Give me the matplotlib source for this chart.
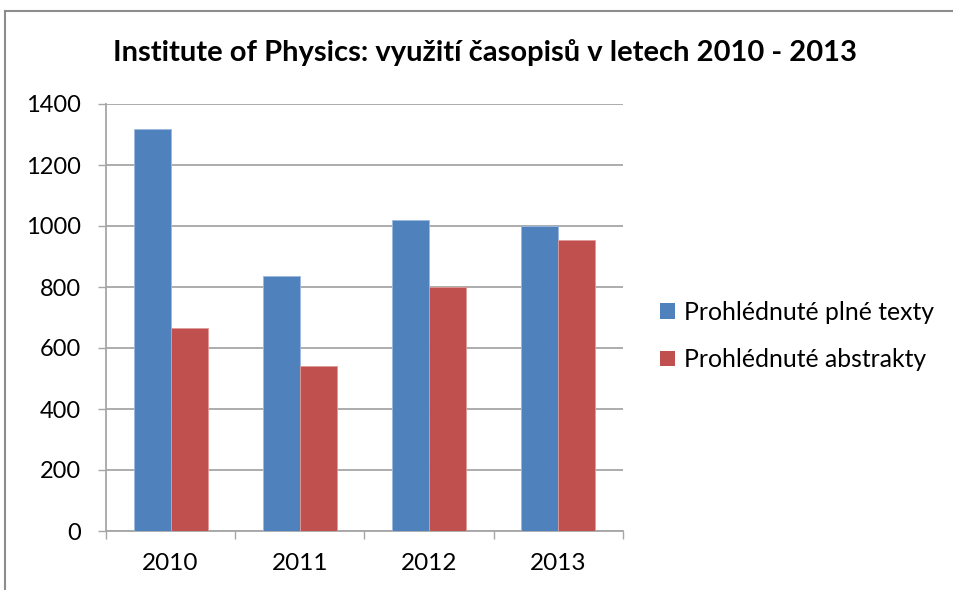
import matplotlib.pyplot as plt
import numpy as np
from matplotlib.patches import Patch
from matplotlib.lines import Line2D

plt.rcParams['font.family'] = ['Lato', 'DejaVu Sans']

# data
years = ['2010', '2011', '2012', '2013']
plne_texty = [1317, 835, 1020, 1000]
abstrakty = [665, 541, 800, 953]
labels = ['Prohlédnuté plné texty', 'Prohlédnuté abstrakty']

blue = '#4F81BD'
red = '#C0504D'
grid_c = '#A6A6A6'

W, H = 954, 590
fig = plt.figure(figsize=(W/100, H/100), dpi=100)
ax = fig.add_axes([106/W, 1-531/H, (623-106)/W, (531-104)/H])

x = np.arange(len(years))
w = 1/3.5
ax.bar(x - w/2, plne_texty, w, color=blue, edgecolor='#9DB9E0', linewidth=0.6, zorder=3)
ax.bar(x + w/2, abstrakty, w, color=red, edgecolor='#E09A98', linewidth=0.6, zorder=3)

ax.set_xlim(-0.5, 3.5)
ax.set_ylim(0, 1400)
ax.set_yticks(np.arange(0, 1401, 200))
ax.yaxis.grid(True, color=grid_c, linewidth=1.3, zorder=0)

ax.set_xticks(np.arange(-0.5, 4, 1))
ax.set_xticklabels([])
ax.set_xticks(x, minor=True)
ax.set_xticklabels(years, minor=True)
ax.tick_params(axis='x', which='minor', length=0, pad=16, labelsize=17.5)
ax.tick_params(axis='x', which='major', direction='out', length=6, width=1, color=grid_c)
ax.tick_params(axis='y', direction='out', length=6, width=1, color=grid_c, pad=12, labelsize=17)

for s in ['top', 'right']:
    ax.spines[s].set_visible(False)
for s in ['left', 'bottom']:
    ax.spines[s].set_color(grid_c)
    ax.spines[s].set_linewidth(1.3)

fig.text(485/W, 1-52/H, 'Institute of Physics: využití časopisů v letech 2010 - 2013',
         ha='center', va='center', fontsize=21, fontweight='bold')

handles = [Patch(facecolor=blue), Patch(facecolor=red)]
fig.legend(handles, labels, loc='center left', bbox_to_anchor=(638/W, 1-336/H),
           frameon=False, fontsize=17.8, handlelength=0.6, handleheight=0.6,
           handletextpad=0.35, labelspacing=1.0)

# outer chart frame
fig.add_artist(Line2D([5/W, 5/W], [0, 1-11/H], color='#8C8C8C', linewidth=1.5))
fig.add_artist(Line2D([5/W, 1], [1-11/H, 1-11/H], color='#8C8C8C', linewidth=1.5))

fig.savefig('out.png', dpi=100)
